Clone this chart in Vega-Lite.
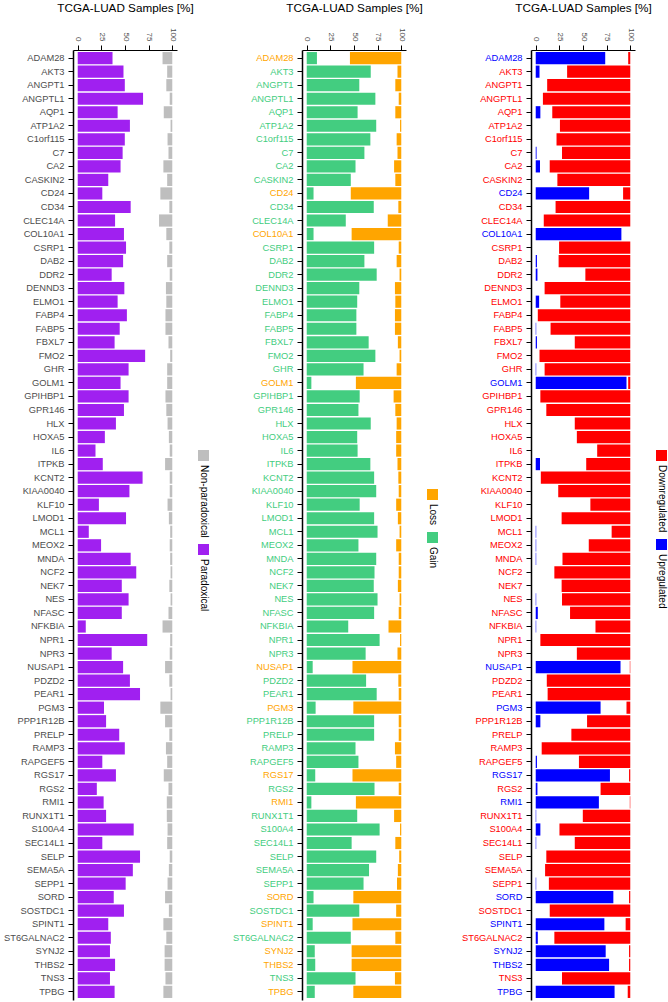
{
  "$schema": "https://vega.github.io/schema/vega-lite/v6.json",
  "padding": {"left": 3, "top": 2, "right": 1, "bottom": 2},
  "bounds": "flush",
  "spacing": 125,
  "datasets": {
    "genes": [
      {"gene": "ADAM28", "para": 36.8, "nonpara": 10.3, "gain": 10.8, "loss": 54.3, "up": 73.5, "down": 2.2},
      {"gene": "AKT3", "para": 48.4, "nonpara": 5.4, "gain": 67.7, "loss": 4.0, "up": 4.0, "down": 66.8},
      {"gene": "ANGPT1", "para": 49.8, "nonpara": 6.3, "gain": 55.6, "loss": 6.3, "up": 0, "down": 87.9},
      {"gene": "ANGPTL1", "para": 69.1, "nonpara": 2.7, "gain": 72.6, "loss": 2.7, "up": 0, "down": 92.4},
      {"gene": "AQP1", "para": 42.2, "nonpara": 9.0, "gain": 53.8, "loss": 6.3, "up": 4.9, "down": 82.5},
      {"gene": "ATP1A2", "para": 55.2, "nonpara": 1.8, "gain": 73.5, "loss": 1.3, "up": 0, "down": 74.4},
      {"gene": "C1orf115", "para": 49.8, "nonpara": 5.0, "gain": 67.3, "loss": 4.9, "up": 0, "down": 78.0},
      {"gene": "C7", "para": 47.5, "nonpara": 4.0, "gain": 61.0, "loss": 4.0, "up": 0.9, "down": 72.2},
      {"gene": "CA2", "para": 45.3, "nonpara": 9.4, "gain": 51.6, "loss": 7.6, "up": 4.5, "down": 85.2},
      {"gene": "CASKIN2", "para": 32.3, "nonpara": 5.4, "gain": 46.6, "loss": 6.3, "up": 0, "down": 77.1},
      {"gene": "CD24", "para": 26.0, "nonpara": 12.6, "gain": 7.2, "loss": 53.4, "up": 56.5, "down": 7.6},
      {"gene": "CD34", "para": 56.0, "nonpara": 3.1, "gain": 70.9, "loss": 3.1, "up": 0, "down": 79.0},
      {"gene": "CLEC14A", "para": 39.5, "nonpara": 14.0, "gain": 41.3, "loss": 14.3, "up": 0, "down": 91.5},
      {"gene": "COL10A1", "para": 48.9, "nonpara": 6.3, "gain": 7.2, "loss": 52.5, "up": 90.6, "down": 0},
      {"gene": "CSRP1", "para": 51.1, "nonpara": 3.1, "gain": 71.3, "loss": 2.7, "up": 0, "down": 75.3},
      {"gene": "DAB2", "para": 48.0, "nonpara": 5.4, "gain": 61.0, "loss": 4.9, "up": 1.3, "down": 75.8},
      {"gene": "DDR2", "para": 35.9, "nonpara": 2.7, "gain": 74.0, "loss": 1.8, "up": 1.8, "down": 47.5},
      {"gene": "DENND3", "para": 49.3, "nonpara": 6.7, "gain": 55.6, "loss": 6.7, "up": 0, "down": 90.6},
      {"gene": "ELMO1", "para": 42.2, "nonpara": 6.3, "gain": 53.4, "loss": 6.3, "up": 3.6, "down": 74.0},
      {"gene": "FABP4", "para": 52.0, "nonpara": 7.2, "gain": 52.5, "loss": 6.7, "up": 0, "down": 97.8},
      {"gene": "FABP5", "para": 44.4, "nonpara": 7.2, "gain": 52.5, "loss": 6.7, "up": 0.5, "down": 84.3},
      {"gene": "FBXL7", "para": 39.0, "nonpara": 4.0, "gain": 65.5, "loss": 3.6, "up": 1.3, "down": 58.7},
      {"gene": "FMO2", "para": 71.3, "nonpara": 2.2, "gain": 72.6, "loss": 1.8, "up": 0, "down": 96.0},
      {"gene": "GHR", "para": 53.8, "nonpara": 5.4, "gain": 60.1, "loss": 4.9, "up": 0.5, "down": 90.6},
      {"gene": "GOLM1", "para": 45.3, "nonpara": 5.4, "gain": 4.9, "loss": 48.0, "up": 96.0, "down": 2.2},
      {"gene": "GPIHBP1", "para": 53.8, "nonpara": 7.2, "gain": 56.0, "loss": 8.1, "up": 0, "down": 95.1},
      {"gene": "GPR146", "para": 48.9, "nonpara": 6.3, "gain": 54.7, "loss": 6.3, "up": 0, "down": 88.8},
      {"gene": "HLX", "para": 40.4, "nonpara": 5.0, "gain": 67.7, "loss": 4.9, "up": 0, "down": 58.7},
      {"gene": "HOXA5", "para": 28.7, "nonpara": 3.6, "gain": 53.4, "loss": 5.4, "up": 0, "down": 56.5},
      {"gene": "IL6", "para": 18.8, "nonpara": 2.7, "gain": 53.8, "loss": 5.4, "up": 0, "down": 35.0},
      {"gene": "ITPKB", "para": 26.5, "nonpara": 7.6, "gain": 67.3, "loss": 4.0, "up": 4.5, "down": 46.6},
      {"gene": "KCNT2", "para": 68.6, "nonpara": 2.7, "gain": 71.3, "loss": 3.1, "up": 0, "down": 94.6},
      {"gene": "KIAA0040", "para": 54.7, "nonpara": 2.7, "gain": 73.5, "loss": 2.7, "up": 0, "down": 76.2},
      {"gene": "KLF10", "para": 22.4, "nonpara": 5.0, "gain": 56.0, "loss": 5.4, "up": 0, "down": 42.2},
      {"gene": "LMOD1", "para": 51.1, "nonpara": 3.6, "gain": 71.3, "loss": 3.6, "up": 0, "down": 72.6},
      {"gene": "MCL1", "para": 11.7, "nonpara": 2.2, "gain": 74.9, "loss": 1.8, "up": 0.5, "down": 19.7},
      {"gene": "MEOX2", "para": 24.7, "nonpara": 2.7, "gain": 54.7, "loss": 5.4, "up": 0.5, "down": 43.9},
      {"gene": "MNDA", "para": 56.0, "nonpara": 2.2, "gain": 73.5, "loss": 2.7, "up": 0.5, "down": 71.7},
      {"gene": "NCF2", "para": 61.9, "nonpara": 1.8, "gain": 71.7, "loss": 2.7, "up": 0, "down": 80.3},
      {"gene": "NEK7", "para": 46.6, "nonpara": 3.1, "gain": 70.9, "loss": 3.6, "up": 0, "down": 72.6},
      {"gene": "NES", "para": 53.8, "nonpara": 1.8, "gain": 74.9, "loss": 1.8, "up": 0.5, "down": 72.2},
      {"gene": "NFASC", "para": 46.6, "nonpara": 4.0, "gain": 71.3, "loss": 2.7, "up": 2.2, "down": 63.7},
      {"gene": "NFKBIA", "para": 8.5, "nonpara": 10.3, "gain": 43.9, "loss": 13.5, "up": 0.5, "down": 36.8},
      {"gene": "NPR1", "para": 73.5, "nonpara": 2.2, "gain": 77.1, "loss": 1.3, "up": 0, "down": 95.1},
      {"gene": "NPR3", "para": 35.9, "nonpara": 2.7, "gain": 62.3, "loss": 4.0, "up": 0, "down": 56.5},
      {"gene": "NUSAP1", "para": 48.0, "nonpara": 7.6, "gain": 6.3, "loss": 51.6, "up": 89.7, "down": 0.5},
      {"gene": "PDZD2", "para": 55.2, "nonpara": 3.1, "gain": 62.8, "loss": 3.1, "up": 0, "down": 88.3},
      {"gene": "PEAR1", "para": 65.9, "nonpara": 1.8, "gain": 74.0, "loss": 2.7, "up": 0, "down": 87.4},
      {"gene": "PGM3", "para": 27.8, "nonpara": 12.6, "gain": 9.4, "loss": 50.7, "up": 68.6, "down": 4.0},
      {"gene": "PPP1R12B", "para": 30.0, "nonpara": 7.6, "gain": 71.3, "loss": 2.7, "up": 4.9, "down": 45.7},
      {"gene": "PRELP", "para": 43.9, "nonpara": 3.1, "gain": 71.3, "loss": 2.7, "up": 0, "down": 62.3},
      {"gene": "RAMP3", "para": 49.8, "nonpara": 6.7, "gain": 51.6, "loss": 6.7, "up": 0, "down": 93.7},
      {"gene": "RAPGEF5", "para": 26.0, "nonpara": 5.4, "gain": 54.7, "loss": 5.4, "up": 1.3, "down": 54.3},
      {"gene": "RGS17", "para": 40.4, "nonpara": 9.0, "gain": 9.0, "loss": 51.6, "up": 78.5, "down": 1.3},
      {"gene": "RGS2", "para": 20.2, "nonpara": 4.0, "gain": 71.7, "loss": 2.7, "up": 1.8, "down": 31.4},
      {"gene": "RMI1", "para": 27.4, "nonpara": 5.8, "gain": 4.9, "loss": 48.0, "up": 66.8, "down": 0.5},
      {"gene": "RUNX1T1", "para": 30.0, "nonpara": 5.8, "gain": 53.4, "loss": 7.6, "up": 0.5, "down": 50.2},
      {"gene": "S100A4", "para": 59.2, "nonpara": 5.0, "gain": 77.1, "loss": 1.3, "up": 4.9, "down": 74.9},
      {"gene": "SEC14L1", "para": 26.0, "nonpara": 5.4, "gain": 47.5, "loss": 6.3, "up": 0.5, "down": 58.7},
      {"gene": "SELP", "para": 65.9, "nonpara": 2.7, "gain": 73.5, "loss": 2.2, "up": 0, "down": 88.8},
      {"gene": "SEMA5A", "para": 58.3, "nonpara": 3.6, "gain": 65.9, "loss": 3.6, "up": 0, "down": 90.1},
      {"gene": "SEPP1", "para": 50.7, "nonpara": 5.0, "gain": 60.1, "loss": 4.5, "up": 0.5, "down": 86.1},
      {"gene": "SORD", "para": 38.1, "nonpara": 7.6, "gain": 7.2, "loss": 50.7, "up": 82.1, "down": 1.3},
      {"gene": "SOSTDC1", "para": 48.9, "nonpara": 3.6, "gain": 55.6, "loss": 5.4, "up": 0, "down": 85.2},
      {"gene": "SPINT1", "para": 32.3, "nonpara": 9.4, "gain": 6.3, "loss": 51.6, "up": 72.6, "down": 4.9},
      {"gene": "ST6GALNAC2", "para": 35.0, "nonpara": 6.3, "gain": 46.6, "loss": 6.3, "up": 2.2, "down": 80.3},
      {"gene": "SYNJ2", "para": 34.1, "nonpara": 8.1, "gain": 8.5, "loss": 52.5, "up": 74.0, "down": 1.3},
      {"gene": "THBS2", "para": 39.5, "nonpara": 8.1, "gain": 9.0, "loss": 52.5, "up": 77.6, "down": 1.3},
      {"gene": "TNS3", "para": 34.1, "nonpara": 7.2, "gain": 51.6, "loss": 6.7, "up": 0, "down": 72.2},
      {"gene": "TPBG", "para": 39.0, "nonpara": 9.4, "gain": 8.5, "loss": 50.7, "up": 83.4, "down": 2.7}
    ]
  },
  "data": {"name": "genes"},
  "config": {
    "font": "Liberation Sans",
    "view": {"stroke": null},
    "axis": {"grid": false, "domainColor": "black", "tickColor": "black", "labelFont": "Liberation Sans", "titleFont": "Liberation Sans"},
    "axisX": {"domainWidth": 1, "tickWidth": 1, "tickSize": 5, "labelFontSize": 8, "labelColor": "#4D4D4D", "labelPadding": 4, "titleFontSize": 11.7, "titleFontWeight": "normal", "titleColor": "black", "titlePadding": 14},
    "axisY": {"domainWidth": 1.5, "tickWidth": 1, "tickSize": 5, "labelFontSize": 9.3, "labelColor": "#4D4D4D", "labelPadding": 4, "labelOverlap": false},
    "legend": {"title": null, "orient": "none", "labelFont": "Liberation Sans", "labelFontSize": 10, "labelColor": "black", "labelLimit": 300, "symbolType": "square", "symbolSize": 121, "symbolStrokeWidth": 0, "symbolOpacity": 1, "rowPadding": 6, "padding": 0}
  },
  "hconcat": [
    {
      "width": 104, "height": 950,
      "layer": [
        {
          "mark": "bar",
          "encoding": {
            "y": {"field": "gene", "type": "nominal", "sort": null, "scale": {"paddingInner": 0.1, "paddingOuter": 0.15}, "axis": {"title": null}},
            "x": {"field": "para", "type": "quantitative", "scale": {"domain": [-5, 105], "nice": false, "zero": false}, "axis": {"orient": "top", "values": [0, 25, 50, 75, 100], "labelAngle": 90, "title": "TCGA-LUAD Samples [%]"}},
            "x2": {"datum": 0},
            "color": {"datum": "Paradoxical", "scale": {"domain": ["Non-paradoxical", "Paradoxical"], "range": ["#BEBEBE", "#A020F0"]},
              "legend": {"legendX": 125, "legendY": 400, "encoding": {"labels": {"angle": {"value": 90}, "align": {"value": "left"}, "baseline": {"value": "middle"}, "x": {"value": 5.5}, "y": {"value": 15}}}}}
          }
        },
        {
          "mark": "bar",
          "encoding": {
            "y": {"field": "gene", "type": "nominal", "sort": null},
            "x": {"field": "nonpara", "type": "quantitative", "scale": {"domain": [-5, 105], "nice": false, "zero": false, "reverse": true}, "axis": null},
            "x2": {"datum": 0},
            "color": {"datum": "Non-paradoxical"}
          }
        }
      ],
      "resolve": {"scale": {"x": "independent"}, "axis": {"x": "independent"}}
    },
    {
      "width": 104, "height": 950,
      "layer": [
        {
          "mark": "bar",
          "encoding": {
            "y": {"field": "gene", "type": "nominal", "sort": null, "scale": {"paddingInner": 0.1, "paddingOuter": 0.15},
              "axis": {"title": null, "labelColor": {"condition": {"test": "indexof(['ADAM28','CD24','COL10A1','GOLM1','NUSAP1','PGM3','RGS17','RMI1','SORD','SPINT1','SYNJ2','THBS2','TPBG'], datum.value) >= 0", "value": "#FFA500"}, "value": "#43CD80"}}},
            "x": {"field": "gain", "type": "quantitative", "scale": {"domain": [-5, 105], "nice": false, "zero": false}, "axis": {"orient": "top", "values": [0, 25, 50, 75, 100], "labelAngle": 90, "title": "TCGA-LUAD Samples [%]"}},
            "x2": {"datum": 0},
            "color": {"datum": "Gain", "scale": {"domain": ["Loss", "Gain"], "range": ["#FFA500", "#43CD80"]},
              "legend": {"legendX": 125, "legendY": 439, "encoding": {"labels": {"angle": {"value": 90}, "align": {"value": "left"}, "baseline": {"value": "middle"}, "x": {"value": 5.5}, "y": {"value": 15}}}}}
          }
        },
        {
          "mark": "bar",
          "encoding": {
            "y": {"field": "gene", "type": "nominal", "sort": null},
            "x": {"field": "loss", "type": "quantitative", "scale": {"domain": [-5, 105], "nice": false, "zero": false, "reverse": true}, "axis": null},
            "x2": {"datum": 0},
            "color": {"datum": "Loss"}
          }
        }
      ],
      "resolve": {"scale": {"x": "independent"}, "axis": {"x": "independent"}}
    },
    {
      "width": 104, "height": 950,
      "layer": [
        {
          "mark": "bar",
          "encoding": {
            "y": {"field": "gene", "type": "nominal", "sort": null, "scale": {"paddingInner": 0.1, "paddingOuter": 0.15},
              "axis": {"title": null, "labelColor": {"condition": {"test": "indexof(['ADAM28','CD24','COL10A1','GOLM1','NUSAP1','PGM3','RGS17','RMI1','SORD','SPINT1','SYNJ2','THBS2','TPBG'], datum.value) >= 0", "value": "#0000FF"}, "value": "#FF0000"}}},
            "x": {"field": "up", "type": "quantitative", "scale": {"domain": [-5, 105], "nice": false, "zero": false}, "axis": {"orient": "top", "values": [0, 25, 50, 75, 100], "labelAngle": 90, "title": "TCGA-LUAD Samples [%]"}},
            "x2": {"datum": 0},
            "color": {"datum": "Upregulated", "scale": {"domain": ["Downregulated", "Upregulated"], "range": ["#FF0000", "#0000FF"]},
              "legend": {"legendX": 125, "legendY": 400, "encoding": {"labels": {"angle": {"value": 90}, "align": {"value": "left"}, "baseline": {"value": "middle"}, "x": {"value": 5.5}, "y": {"value": 15}}}}}
          }
        },
        {
          "mark": "bar",
          "encoding": {
            "y": {"field": "gene", "type": "nominal", "sort": null},
            "x": {"field": "down", "type": "quantitative", "scale": {"domain": [-5, 105], "nice": false, "zero": false, "reverse": true}, "axis": null},
            "x2": {"datum": 0},
            "color": {"datum": "Downregulated"}
          }
        }
      ],
      "resolve": {"scale": {"x": "independent"}, "axis": {"x": "independent"}}
    }
  ],
  "resolve": {"scale": {"color": "independent", "y": "independent"}, "legend": {"color": "independent"}}
}
